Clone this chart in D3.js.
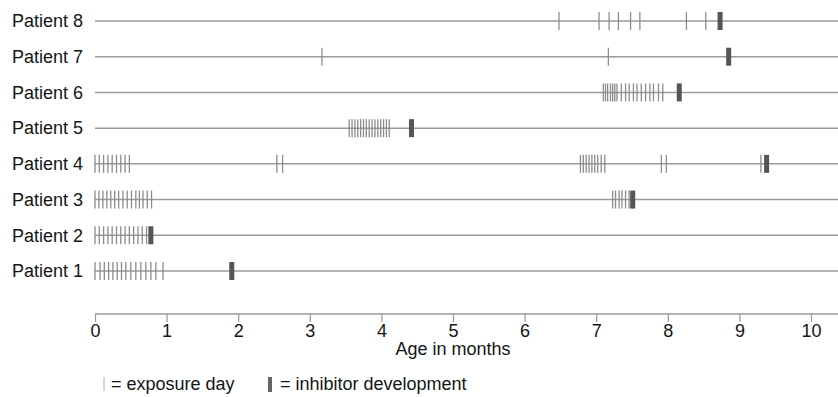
<!DOCTYPE html>
<html>
<head>
<meta charset="utf-8">
<script src="https://cdn.jsdelivr.net/npm/d3@7/dist/d3.min.js"></script>
<style>
  body { margin: 0; background: #fff; }
  svg text { font-family: "Liberation Sans", Arial, sans-serif; fill: #151515; }
</style>
</head>
<body>
<svg id="chart" width="838" height="397"></svg>
<script>
// patients, top to bottom
const patients = ['Patient 8', 'Patient 7', 'Patient 6', 'Patient 5', 'Patient 4', 'Patient 3', 'Patient 2', 'Patient 1'];

// exposure days (age in months)
const exposure = {
  'Patient 8': [6.48, 7.04, 7.18, 7.31, 7.48, 7.61, 8.26, 8.53],
  'Patient 7': [3.17, 7.17],
  'Patient 6': [7.10, 7.13, 7.16, 7.20, 7.23, 7.26, 7.29, 7.35, 7.41, 7.46, 7.52, 7.57, 7.63, 7.69, 7.75, 7.80, 7.87, 7.93],
  'Patient 5': [3.55, 3.59, 3.63, 3.67, 3.71, 3.75, 3.79, 3.83, 3.87, 3.91, 3.95, 3.99, 4.03, 4.07, 4.11],
  'Patient 4': [0, 0.06, 0.12, 0.18, 0.24, 0.30, 0.36, 0.42, 0.48, 2.54, 2.62,
                6.78, 6.82, 6.86, 6.90, 6.94, 6.98, 7.02, 7.07, 7.12, 7.91, 7.98, 9.30],
  'Patient 3': [0, 0.055, 0.11, 0.165, 0.22, 0.275, 0.33, 0.39, 0.45, 0.51, 0.57, 0.62, 0.67, 0.73, 0.79,
                7.23, 7.27, 7.32, 7.36, 7.41, 7.46],
  'Patient 2': [0, 0.06, 0.12, 0.18, 0.24, 0.30, 0.36, 0.42, 0.48, 0.54, 0.60, 0.66, 0.72],
  'Patient 1': [0, 0.07, 0.13, 0.19, 0.25, 0.31, 0.37, 0.43, 0.50, 0.57, 0.64, 0.71, 0.78, 0.85, 0.95]
};

// age at inhibitor development
const inhibitor = {
  'Patient 8': 8.73, 'Patient 7': 8.85, 'Patient 6': 8.16, 'Patient 5': 4.42,
  'Patient 4': 9.38, 'Patient 3': 7.51, 'Patient 2': 0.78, 'Patient 1': 1.91
};

const xTicks = [0, 1, 2, 3, 4, 5, 6, 7, 8, 9, 10];

const svg = d3.select('#chart');
const fontSize = '18px';

const x = d3.scaleLinear().domain([0, 10]).range([95, 811]);
const y = d3.scalePoint().domain(patients).range([21, 271]);
const xEnd = 838;

// row lines
svg.append('g')
  .selectAll('line')
  .data(patients)
  .enter()
  .append('line')
  .attr('x1', x(0))
  .attr('x2', xEnd)
  .attr('y1', d => y(d))
  .attr('y2', d => y(d))
  .attr('stroke', '#9a9a9a')
  .attr('stroke-width', 1.5);

// row labels
svg.append('g')
  .selectAll('text')
  .data(patients)
  .enter()
  .append('text')
  .attr('x', 12)
  .attr('y', d => y(d))
  .attr('dy', '0.35em')
  .attr('font-size', fontSize)
  .text(d => d);

// exposure day ticks
const expData = patients.flatMap(p => exposure[p].map(v => ({ p, v })));
svg.append('g')
  .selectAll('line')
  .data(expData)
  .enter()
  .append('line')
  .attr('x1', d => x(d.v))
  .attr('x2', d => x(d.v))
  .attr('y1', d => y(d.p) - 9)
  .attr('y2', d => y(d.p) + 9)
  .attr('stroke', '#8c8c8c')
  .attr('stroke-width', 1.3);

// inhibitor bars
svg.append('g')
  .selectAll('rect')
  .data(patients)
  .enter()
  .append('rect')
  .attr('x', d => x(inhibitor[d]) - 2.5)
  .attr('y', d => y(d) - 9)
  .attr('width', 5)
  .attr('height', 18)
  .attr('fill', '#555');

// x axis
const axisY = 314;
const axis = svg.append('g')
  .attr('transform', `translate(0,${axisY})`)
  .call(d3.axisBottom(x).tickValues(xTicks).tickSize(8).tickPadding(2).tickFormat(d3.format('d')));
axis.select('.domain').remove();
axis.append('line')
  .attr('x1', x(0)).attr('x2', xEnd)
  .attr('stroke', '#9a9a9a').attr('stroke-width', 1.5);
axis.selectAll('.tick line').attr('stroke', '#9a9a9a').attr('stroke-width', 1.2);
axis.selectAll('.tick text')
  .attr('font-size', fontSize)
  .attr('font-family', '"Liberation Sans", Arial, sans-serif')
  .attr('fill', '#151515');

svg.append('text')
  .attr('x', x(5))
  .attr('y', 355)
  .attr('text-anchor', 'middle')
  .attr('font-size', fontSize)
  .text('Age in months');

// legend
const legend = svg.append('g').attr('transform', 'translate(0,384)');
legend.append('line')
  .attr('x1', 104).attr('x2', 104).attr('y1', -7).attr('y2', 7)
  .attr('stroke', '#aaa').attr('stroke-width', 1);
legend.append('text')
  .attr('x', 111).attr('y', 0).attr('dy', '0.35em')
  .attr('font-size', fontSize)
  .text('= exposure day');
legend.append('rect')
  .attr('x', 268).attr('y', -7).attr('width', 4).attr('height', 15)
  .attr('fill', '#666');
legend.append('text')
  .attr('x', 280).attr('y', 0).attr('dy', '0.35em')
  .attr('font-size', fontSize)
  .text('= inhibitor development');
</script>
</body>
</html>
